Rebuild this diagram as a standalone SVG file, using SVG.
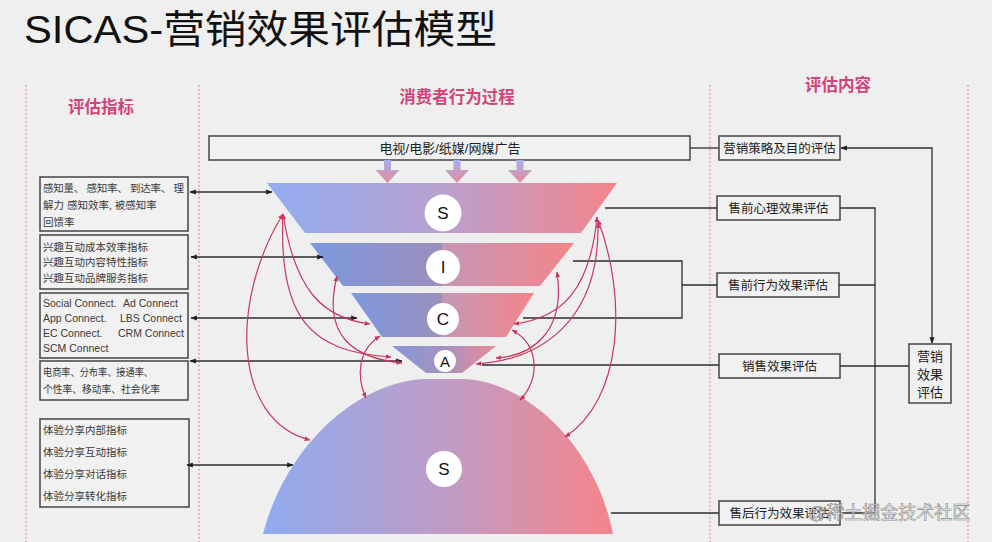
<svg xmlns="http://www.w3.org/2000/svg" width="992" height="542" viewBox="0 0 992 542">
<defs>
<style>
text{font-family:"Liberation Sans","Noto Sans CJK SC",sans-serif;fill:#2a2a2a}
.hdr{font-size:16.5px;font-weight:bold;fill:#d24379}
.box{fill:#f1f1f1;stroke:#444;stroke-width:1.5}
.t11{font-size:10.5px;fill:#3a3a3a}
.t12{font-size:12.5px;fill:#222}
.ln{fill:none;stroke:#2e2e2e;stroke-width:1.3}
.pk{fill:none;stroke:#c8385f;stroke-width:1.2}
.dot{stroke:#e07090;stroke-width:1.2;stroke-dasharray:1.5 2.5}
.circ{fill:#fff}
.let{font-size:17px;text-anchor:middle;fill:#111}
</style>
<marker id="ab" viewBox="0 0 10 10" refX="9" refY="5" markerWidth="5" markerHeight="5" orient="auto-start-reverse"><path d="M0,1 L10,5 L0,9 z" fill="#1e1e1e"/></marker>
<marker id="ap" viewBox="0 0 10 10" refX="9" refY="5" markerWidth="5" markerHeight="5" orient="auto-start-reverse"><path d="M0,1 L10,5 L0,9 z" fill="#c8385f"/></marker>
<linearGradient id="gS" x1="0" y1="0" x2="1" y2="0"><stop offset="0" stop-color="#93adf2"/><stop offset="0.5" stop-color="#b9a0cf"/><stop offset="1" stop-color="#f5858a"/></linearGradient>
<linearGradient id="gI" x1="0" y1="0" x2="1" y2="0"><stop offset="0" stop-color="#7c99e0"/><stop offset="0.5" stop-color="#9b8fbb"/><stop offset="0.5" stop-color="#c497b6"/><stop offset="1" stop-color="#f4858a"/></linearGradient>
<linearGradient id="gA" x1="0" y1="0" x2="1" y2="0"><stop offset="0" stop-color="#8597d8"/><stop offset="0.5" stop-color="#a592c0"/><stop offset="1" stop-color="#ec8a98"/></linearGradient>
<linearGradient id="gD" x1="0" y1="0" x2="1" y2="0"><stop offset="0" stop-color="#90abf0"/><stop offset="0.5" stop-color="#bd9dc8"/><stop offset="1" stop-color="#f5848a"/></linearGradient>
<linearGradient id="gArr" x1="0" y1="0" x2="0" y2="1"><stop offset="0" stop-color="#a4b0ee"/><stop offset="1" stop-color="#e98a9a"/></linearGradient>
</defs>
<rect width="992" height="542" fill="#efefef"/>

<text x="24" y="43" textLength="473" lengthAdjust="spacingAndGlyphs" style="font-size:39px;fill:#111">SICAS-营销效果评估模型</text>

<g id="dividers">
<line class="dot" x1="26" y1="85" x2="26" y2="542"/>
<line class="dot" x1="199" y1="85" x2="199" y2="542"/>
<line class="dot" x1="710" y1="85" x2="710" y2="542"/>
<line class="dot" x1="968" y1="85" x2="968" y2="542"/>
</g>

<g id="headers">
<text class="hdr" x="101" y="113" text-anchor="middle">评估指标</text>
<text class="hdr" x="457" y="103" text-anchor="middle">消费者行为过程</text>
<text class="hdr" x="838" y="91" text-anchor="middle">评估内容</text>
</g>

<g id="media">
<rect class="box" x="209" y="136" width="481" height="24"/>
<text class="t12" x="450" y="152.5" text-anchor="middle" style="font-size:13px">电视/电影/纸媒/网媒广告</text>
<path d="M384,160 h7 v10 h8.5 l-12,13 l-12,-13 h8.5 z" fill="url(#gArr)"/>
<path d="M453.5,160 h7 v10 h8.5 l-12,13 l-12,-13 h8.5 z" fill="url(#gArr)"/>
<path d="M516.5,160 h7 v10 h8.5 l-12,13 l-12,-13 h8.5 z" fill="url(#gArr)"/>
</g>

<g id="funnel-S">
<path d="M267,183 L617,183 L581,233 L305,233 Z" fill="url(#gS)"/>
<circle class="circ" cx="443" cy="213" r="18.5"/>
<text class="let" x="443" y="219">S</text>
</g>
<g id="funnel-I">
<path d="M310,243 L574,243 L540,286 L343,286 Z" fill="url(#gI)"/>
<circle class="circ" cx="443" cy="267" r="17"/>
<text class="let" x="443" y="273">I</text>
</g>
<g id="funnel-C">
<path d="M351,293 L534,293 L506,337 L382,337 Z" fill="url(#gI)"/>
<circle class="circ" cx="443" cy="319" r="16"/>
<text class="let" x="443" y="325">C</text>
</g>
<g id="funnel-A">
<path d="M392,346 L496,346 L462,373 L426,373 Z" fill="url(#gA)"/>
<circle class="circ" cx="445" cy="361" r="11"/>
<text class="let" x="445" y="367" style="font-size:15px">A</text>
</g>
<g id="dome-S">
<path d="M263,534 C284,452 350,385 422,379 L467,379 C534,385 597,452 613,534 Z" fill="url(#gD)"/>
<circle class="circ" cx="444" cy="469" r="18"/>
<text class="let" x="444" y="475">S</text>
</g>

<g id="ind-1">
<rect class="box" x="40" y="177" width="148" height="54"/>
<text class="t11" x="43" y="192" textLength="141" lengthAdjust="spacing">感知量、 感知率、 到达率、 理</text>
<text class="t11" x="43" y="209">解力 感知效率, 被感知率</text>
<text class="t11" x="43" y="226">回馈率</text>
</g>
<g id="ind-2">
<rect class="box" x="40" y="235" width="148" height="54"/>
<text class="t11" x="43" y="251">兴趣互动成本效率指标</text>
<text class="t11" x="43" y="266">兴趣互动内容特性指标</text>
<text class="t11" x="43" y="282">兴趣互动品牌服务指标</text>
</g>
<g id="ind-3">
<rect class="box" x="40" y="293" width="148" height="65"/>
<text class="t11" x="43" y="307">Social Connect.</text><text class="t11" x="123" y="307">Ad Connect</text>
<text class="t11" x="43" y="322">App Connect.</text><text class="t11" x="120" y="322">LBS Connect</text>
<text class="t11" x="43" y="337">EC Connect.</text><text class="t11" x="118" y="337">CRM Connect</text>
<text class="t11" x="43" y="352">SCM Connect</text>
</g>
<g id="ind-4">
<rect class="box" x="40" y="361" width="148" height="39"/>
<text class="t11" x="43" y="376" textLength="110" lengthAdjust="spacingAndGlyphs">电商率、分布率、接通率、</text>
<text class="t11" x="43" y="393" textLength="117" lengthAdjust="spacingAndGlyphs">个性率、移动率、社会化率</text>
</g>
<g id="ind-5">
<rect class="box" x="40" y="419" width="149" height="88"/>
<text class="t11" x="43" y="434">体验分享内部指标</text>
<text class="t11" x="43" y="456">体验分享互动指标</text>
<text class="t11" x="43" y="478">体验分享对话指标</text>
<text class="t11" x="43" y="500">体验分享转化指标</text>
</g>

<g id="eval-strategy">
<rect class="box" x="719" y="136" width="121" height="24"/>
<text class="t12" x="779.5" y="152.5" text-anchor="middle">营销策略及目的评估</text>
</g>
<g id="eval-pre-psych">
<rect class="box" x="717" y="196" width="123" height="24"/>
<text class="t12" x="778.5" y="212.5" text-anchor="middle">售前心理效果评估</text>
</g>
<g id="eval-pre-behav">
<rect class="box" x="717" y="273" width="122" height="24"/>
<text class="t12" x="778" y="289.5" text-anchor="middle">售前行为效果评估</text>
</g>
<g id="eval-sales">
<rect class="box" x="719" y="354" width="121" height="24"/>
<text class="t12" x="779.5" y="370.5" text-anchor="middle">销售效果评估</text>
</g>
<g id="eval-post">
<rect class="box" x="719" y="501" width="121" height="24"/>
<text class="t12" x="779.5" y="517.5" text-anchor="middle">售后行为效果评估</text>
</g>
<g id="eval-total">
<rect class="box" x="909" y="344" width="42" height="59"/>
<text class="t12" x="930" y="361" text-anchor="middle" style="font-size:13px">营销</text>
<text class="t12" x="930" y="379" text-anchor="middle" style="font-size:13px">效果</text>
<text class="t12" x="930" y="397" text-anchor="middle" style="font-size:13px">评估</text>
</g>

<g id="connectors">
<line class="ln" x1="690" y1="148" x2="719" y2="148"/>
<line class="ln" x1="190" y1="192" x2="272" y2="192" marker-start="url(#ab)" marker-end="url(#ab)"/>
<line class="ln" x1="191" y1="257" x2="323" y2="257" marker-start="url(#ab)" marker-end="url(#ab)"/>
<line class="ln" x1="191" y1="318" x2="357" y2="318" marker-start="url(#ab)" marker-end="url(#ab)"/>
<line class="ln" x1="190" y1="361" x2="402" y2="361" marker-start="url(#ab)" marker-end="url(#ab)"/>
<line class="ln" x1="187" y1="465" x2="293" y2="465" marker-start="url(#ab)" marker-end="url(#ab)"/>
<line class="ln" x1="605" y1="208" x2="717" y2="208"/>
<path class="ln" d="M573,261 H682 V318 H523"/>
<line class="ln" x1="682" y1="285" x2="717" y2="285"/>
<line class="ln" x1="482" y1="365" x2="719" y2="365"/>
<line class="ln" x1="611" y1="513" x2="719" y2="513"/>
<path class="ln" d="M840,208 H875 V513 H840"/>
<line class="ln" x1="839" y1="285" x2="875" y2="285"/>
<line class="ln" x1="840" y1="366" x2="909" y2="366"/>
<path class="ln" d="M841,148 H932 V343" marker-start="url(#ab)" marker-end="url(#ab)"/>

<path class="pk" d="M283,214 C295,290 322,318 370,324" marker-start="url(#ap)" marker-end="url(#ap)"/>
<path class="pk" d="M283,214 C278,320 312,352 391,357" marker-start="url(#ap)" marker-end="url(#ap)"/>
<path class="pk" d="M283,214 C230,300 232,420 310,440" marker-start="url(#ap)" marker-end="url(#ap)"/>
<path class="pk" d="M337,276 C322,335 352,358 402,363" marker-start="url(#ap)" marker-end="url(#ap)"/>
<path class="pk" d="M380,336 C358,350 356,376 366,398" marker-start="url(#ap)" marker-end="url(#ap)"/>
<path class="pk" d="M597,217 C590,290 562,318 514,324" marker-start="url(#ap)" marker-end="url(#ap)"/>
<path class="pk" d="M598,223 C600,322 540,360 476,364" marker-start="url(#ap)" marker-end="url(#ap)"/>
<path class="pk" d="M598,220 C628,300 622,400 565,437" marker-start="url(#ap)" marker-end="url(#ap)"/>
<path class="pk" d="M557,272 C566,332 532,356 496,358" marker-start="url(#ap)" marker-end="url(#ap)"/>
<path class="pk" d="M512,330 C540,345 540,380 520,400" marker-start="url(#ap)" marker-end="url(#ap)"/>
</g>

<text x="808" y="519" style="font-size:18px;fill:#f4f4f4;fill-opacity:0.75;stroke:#8a8a8a;stroke-width:0.6">@稀土掘金技术社区</text>
</svg>
